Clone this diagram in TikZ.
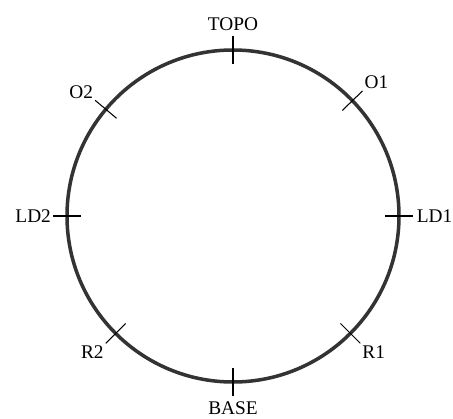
\documentclass[tikz,border=0pt]{standalone}
\usepackage{fontspec}
\setmainfont{Liberation Serif}
\begin{document}
\begin{tikzpicture}[font=\fontsize{11}{13}\selectfont]
        \useasboundingbox (0,0) rectangle (9.06,8.36);
        \coordinate (c) at (4.66,4.04);
        \draw[line width=2pt, black!80] (c) circle (3.32);
        \foreach \a/\n in {90/topo,44/oa,140/ob,0/lda,180/ldb,-45/ra,225/rb,-90/base} {
            \draw[line width=0.6pt] ([shift={(\a:3.04)}]c) -- ([shift={(\a:3.6)}]c) coordinate (\n);
        }
        \node[anchor=south, inner sep=3pt] (topolbl) at (topo) {TOPO};
        \node[anchor=south west, inner sep=1pt] (oalbl) at (oa) {O1};
        \node[anchor=south east, inner sep=1pt] (oblbl) at (ob) {O2};
        \node[anchor=west, inner sep=2pt] (ldalbl) at (lda) {LD1};
        \node[anchor=east, inner sep=1pt] (ldblbl) at (ldb) {LD2};
        \node[anchor=north west, inner sep=1pt] (ralbl) at (ra) {R1};
        \node[anchor=north east, inner sep=1pt] (rblbl) at (rb) {R2};
        \node[anchor=north, inner sep=3pt] (baselbl) at (base) {BASE};
    \end{tikzpicture}
\end{document}
